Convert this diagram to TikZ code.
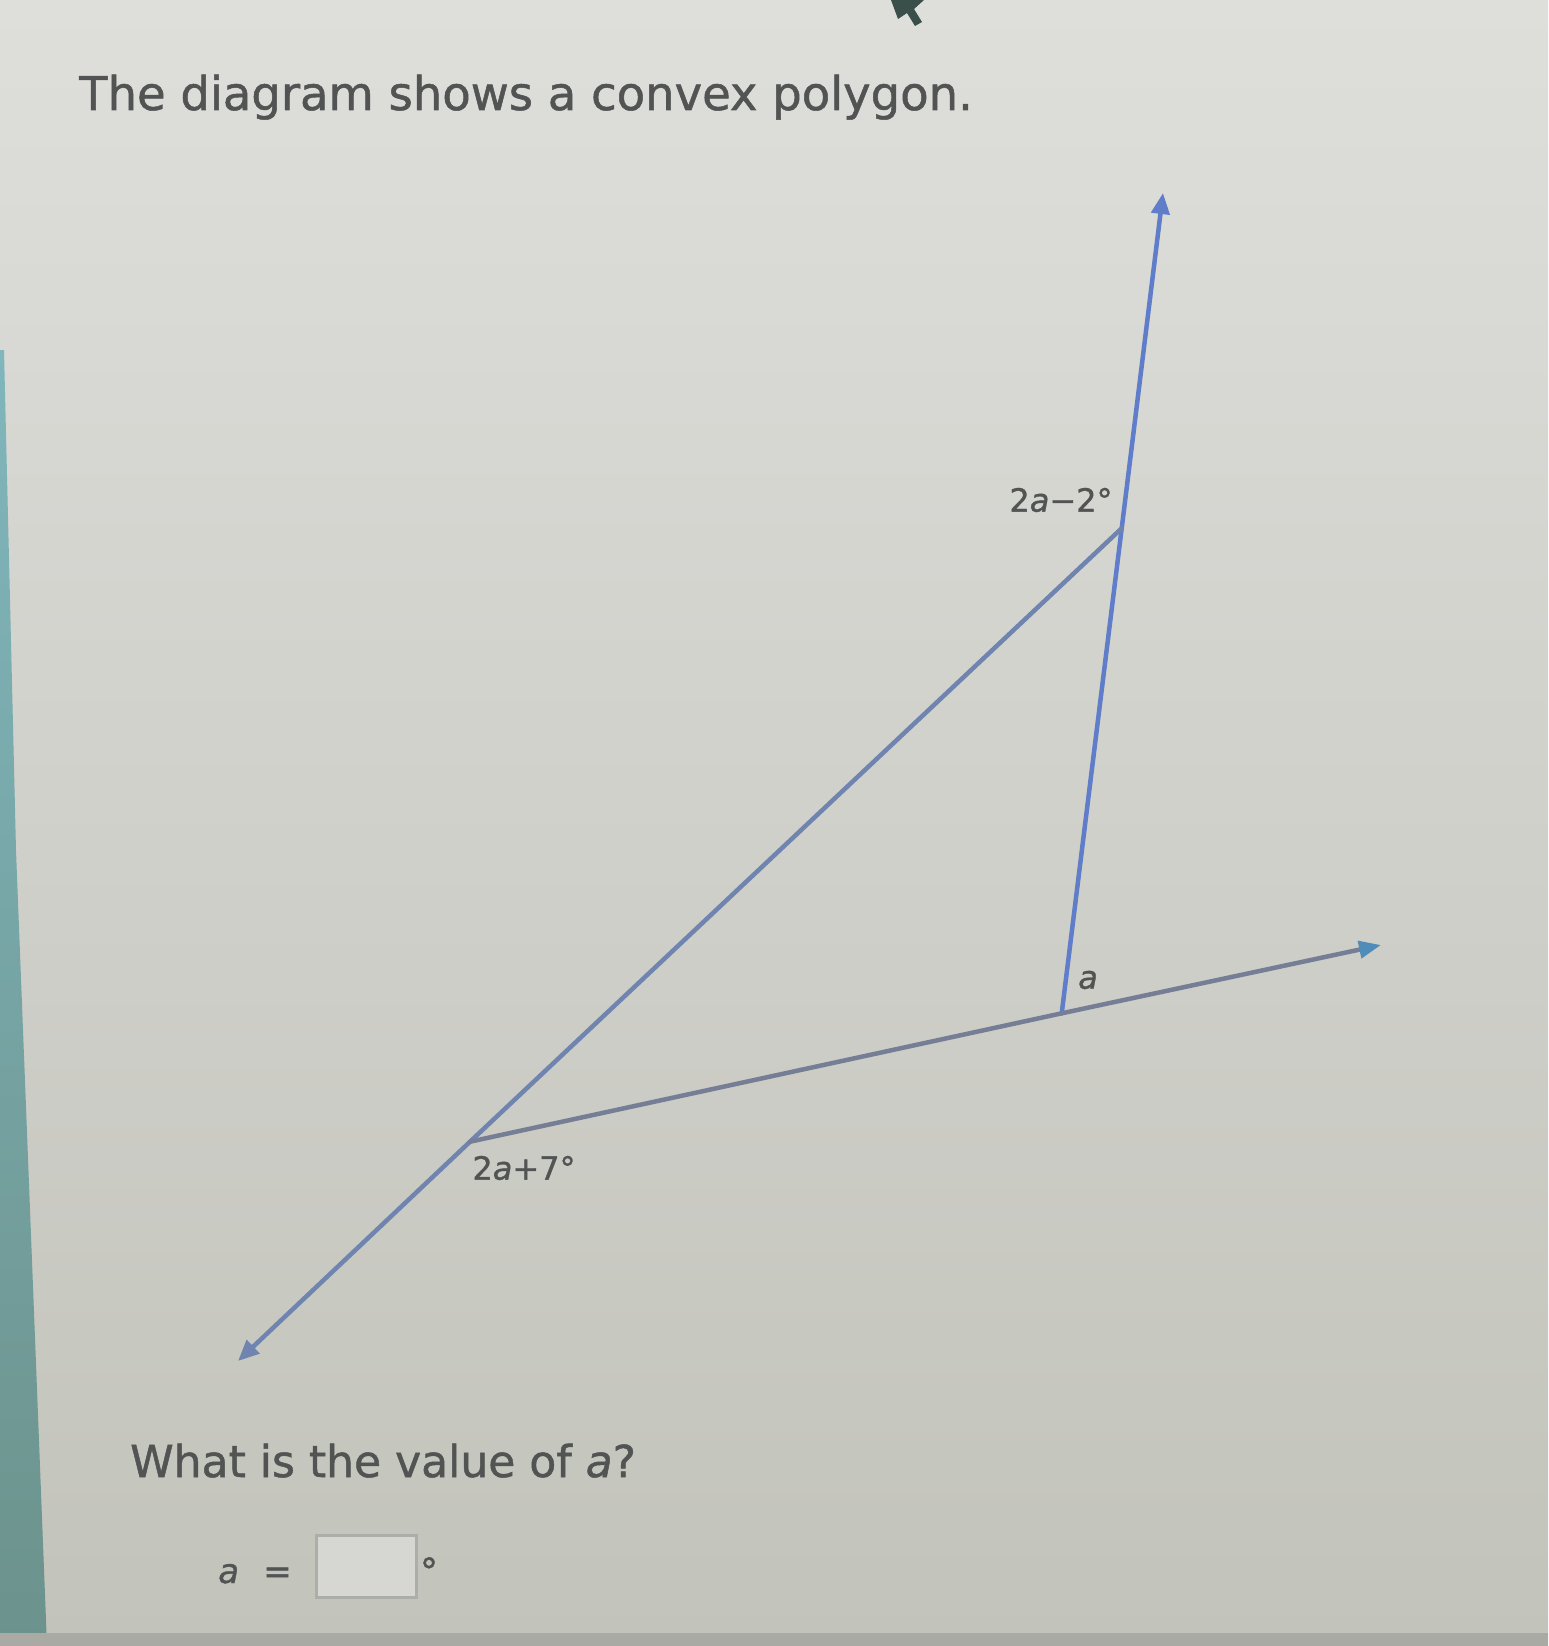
\documentclass[tikz,border=0pt]{standalone}
\usepackage{fontspec}
\setmainfont{DejaVu Sans}[FakeBold=1.1]
\usetikzlibrary{arrows.meta}
\definecolor{bgtop}{RGB}{222,222,219}
\definecolor{bgbot}{RGB}{194,195,186}
\definecolor{tealtop}{RGB}{128,182,188}
\definecolor{tealbot}{RGB}{108,146,140}
\definecolor{txt}{RGB}{82,84,84}
\definecolor{lblue}{RGB}{95,125,200}
\definecolor{lgrayblue}{RGB}{112,132,176}
\definecolor{lgray}{RGB}{118,126,150}
\definecolor{tipblue}{RGB}{80,140,185}
\definecolor{boxline}{RGB}{172,174,170}
\definecolor{boxfill}{RGB}{214,215,210}
\definecolor{bottomband}{RGB}{168,170,163}
\definecolor{cursor}{RGB}{58,78,74}
\tikzset{
  ray/.style={line width=4.5pt, line cap=round, line join=round},
  tip/.style={-{Triangle[length=21pt,width=18pt]}},
  tipr/.style={-{Triangle[length=22pt,width=17pt,color=tipblue]}},
  lbl/.style={text=txt, font=\fontsize{32}{36}\selectfont, inner sep=0pt},
  txtline/.style={text=txt, inner sep=0pt, anchor=base west}
}
\begin{document}
\begin{tikzpicture}[x=1pt,y=-1pt]
% background
\shade[top color=bgtop, bottom color=bgbot] (0,0) rectangle (1548,1646);
\useasboundingbox (0,0) rectangle (1548,1646);
% teal strip on the left
\shade[top color=tealtop, bottom color=tealbot] (0,350) -- (4,350) -- (16,850) -- (47,1646) -- (0,1646) -- cycle;
% darker bottom band
\fill[bottomband] (0,1633) rectangle (1548,1646);
% cursor at top
\fill[cursor] (891,0) -- (924,0) -- (914,9) -- (922,22) -- (915,26) -- (907,13) -- (898,19) -- cycle;

% texts
\node[txtline, font=\fontsize{46.5}{50}\selectfont] (title) at (79,110) {The diagram shows a convex polygon.};
\node[txtline, font=\fontsize{44}{48}\selectfont] (question) at (130,1477) {What is the value of \textit{a}?};

% vertices and ray ends
\coordinate (T) at (1121.7,528.3);
\coordinate (B) at (1061.7,1013.3);
\coordinate (L) at (470,1141.7);
\coordinate (Tup) at (1163,193);
\coordinate (Rend) at (1381,945);
\coordinate (BLend) at (238,1361);

% rays
\draw[ray, lblue, tip] (B) -- (T) -- (Tup);
\draw[ray, lgrayblue, tip] (T) -- (L) -- (BLend);
\draw[ray, lgray] (L) -- (B);
\draw[ray, lgray, tipr] (B) -- (Rend);

% angle labels
\node[lbl] (angT) at (1061,500) {2\textit{a}−2°};
\node[lbl] (angB) at (1088,980) {\textit{a}};
\node[lbl] (angL) at (524,1168) {2\textit{a}+7°};

% answer line
\node[txtline, font=\fontsize{34}{38}\selectfont] (ansa) at (218,1583) {\textit{a}};
\node[txtline, font=\fontsize{34}{38}\selectfont] (anseq) at (263,1583) {=};
\node[draw=boxline, line width=2.5pt, fill=boxfill, minimum width=100pt, minimum height=62pt, inner sep=0pt] (ansbox) at (366.5,1566.5) {};
\node[text=txt, font=\fontsize{36}{40}\selectfont, inner sep=0pt, anchor=north] (ansdeg) at (429,1557) {°};
\end{tikzpicture}
\end{document}
